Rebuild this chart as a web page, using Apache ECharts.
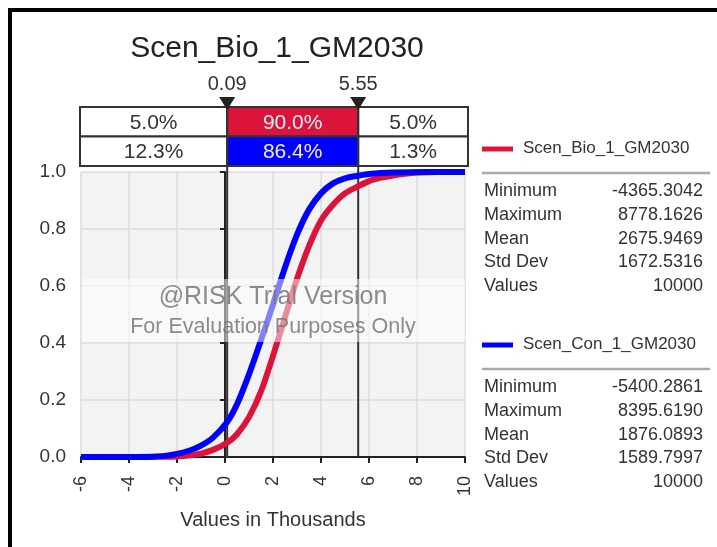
<!DOCTYPE html>
<html><head><meta charset="utf-8">
<script src="https://cdn.jsdelivr.net/npm/echarts@6/dist/echarts.min.js"></script>
<style>html,body{margin:0;padding:0;background:#fff}#c{width:717px;height:547px}</style>
</head><body><div id="c"></div>
<script>
const chartTitle = 'Scen_Bio_1_GM2030';
const seriesNames = ['Scen_Bio_1_GM2030', 'Scen_Con_1_GM2030'];
const seriesColors = ['#DC143C', '#0000FF'];
// cumulative probability curves (x in thousands)
const bioX = [-4.37, -3.0, -2.0, -1.5, -1.0, -0.5, 0.09, 0.5, 1.0, 1.5, 2.0, 2.5, 3.0, 3.5, 4.0, 4.5, 5.0, 5.55, 6.0, 6.5, 7.0, 7.5, 8.0, 8.78];
const bioY = [0, 0.0005, 0.002, 0.005, 0.012, 0.025, 0.05, 0.08, 0.14, 0.23, 0.355, 0.49, 0.625, 0.74, 0.83, 0.885, 0.925, 0.95, 0.968, 0.98, 0.988, 0.994, 0.998, 1.0];
const conX = [-6.0, -5.40, -3.0, -2.5, -2.0, -1.5, -1.0, -0.5, 0.09, 0.5, 1.0, 1.5, 2.0, 2.5, 3.0, 3.5, 4.0, 4.5, 5.0, 5.55, 6.0, 7.0, 8.40, 10.0];
const conY = [0, 0, 0.001, 0.004, 0.011, 0.022, 0.040, 0.068, 0.123, 0.185, 0.29, 0.41, 0.535, 0.665, 0.78, 0.868, 0.925, 0.96, 0.978, 0.987, 0.993, 0.998, 1.0, 1.0];
const cutoffs = [0.09, 5.55];
const cutoffLabels = ['0.09', '5.55'];
const bioBands = ['5.0%', '90.0%', '5.0%'];
const conBands = ['12.3%', '86.4%', '1.3%'];
const statLabels = ['Minimum', 'Maximum', 'Mean', 'Std Dev', 'Values'];
const bioStats = ['-4365.3042', '8778.1626', '2675.9469', '1672.5316', '10000'];
const conStats = ['-5400.2861', '8395.6190', '1876.0893', '1589.7997', '10000'];
const xMin = -6, xMax = 10, xStep = 2;
const yMin = 0, yMax = 1, yStep = 0.2;
const xAxisName = 'Values in Thousands';
const watermark = ['@RISK Trial Version', 'For Evaluation Purposes Only'];

const FONT = '"Liberation Sans", Arial, sans-serif';
const chart = echarts.init(document.getElementById('c'), null, {renderer: 'canvas'});

const zip = (xs, ys) => xs.map((x, i) => [x, ys[i]]);

function renderTable(params, api) {
  const gTop = api.coord([xMin, yMax])[1];
  const gBot = api.coord([xMin, yMin])[1];
  const xs = [xMin, cutoffs[0], cutoffs[1], xMax].map(v => api.coord([v, 0])[0]);
  xs[0] -= 1; xs[3] += 3;
  const rowH = 29.5;
  const r1 = gTop - 65, r2 = r1 + rowH;
  const children = [];
  const rows = [[r1, bioBands, seriesColors[0]], [r2, conBands, seriesColors[1]]];
  rows.forEach(([top, texts, col]) => {
    for (let i = 0; i < 3; i++) {
      children.push({
        type: 'rect', shape: {x: xs[i], y: top, width: xs[i + 1] - xs[i], height: rowH},
        style: {fill: i === 1 ? col : '#fff', stroke: '#333', lineWidth: 2}
      });
      children.push({
        type: 'text', style: {
          x: (xs[i] + xs[i + 1]) / 2, y: top + rowH / 2 + 1, text: texts[i],
          align: 'center', verticalAlign: 'middle', font: '21px ' + FONT,
          fill: i === 1 ? '#f4eef4' : '#333'
        }
      });
    }
  });
  cutoffs.forEach((c, i) => {
    const cx = api.coord([c, 0])[0];
    children.push({type: 'line', shape: {x1: cx, y1: r1 - 8, x2: cx, y2: gBot}, style: {stroke: '#333', lineWidth: 2}});
    const tip = r1 + 3;
    children.push({type: 'polygon', shape: {points: [[cx - 8, tip - 13], [cx + 8, tip - 13], [cx, tip]]}, style: {fill: '#222'}});
    children.push({type: 'text', style: {x: cx, y: r1 - 23, text: cutoffLabels[i], align: 'center', verticalAlign: 'middle', font: '20px ' + FONT, fill: '#333'}});
  });
  return {type: 'group', children};
}

function statsBlock(name, color, stats, top) {
  const els = [];
  els.push({type: 'line', shape: {x1: 482, y1: top, x2: 513, y2: top}, style: {stroke: color, lineWidth: 5}});
  els.push({type: 'text', style: {x: 523, y: top - 1, text: name, verticalAlign: 'middle', font: '17px ' + FONT, fill: '#333'}});
  els.push({type: 'line', shape: {x1: 482, y1: top + 24, x2: 710, y2: top + 24}, style: {stroke: '#aaa', lineWidth: 2.5}});
  statLabels.forEach((l, i) => {
    const y = top + 42 + i * 23.8;
    els.push({type: 'text', style: {x: 484, y, text: l, verticalAlign: 'middle', font: '18px ' + FONT, fill: '#333'}});
    els.push({type: 'text', style: {x: 703, y, text: stats[i], align: 'right', verticalAlign: 'middle', font: '18px ' + FONT, fill: '#333'}});
  });
  return els;
}

const option = {
  animation: false,
  backgroundColor: '#fff',
  textStyle: {fontFamily: FONT},
  title: {text: chartTitle, left: 272, top: 29, textAlign: 'center',
    textStyle: {fontFamily: FONT, fontSize: 30, fontWeight: 'normal', color: '#222'}},
  grid: {left: 81, right: 252, top: 172, bottom: 90, show: true, backgroundColor: '#f3f3f3', borderWidth: 0},
  xAxis: {
    type: 'value', min: xMin, max: xMax, interval: xStep,
    name: xAxisName, nameLocation: 'middle', nameGap: 53,
    nameTextStyle: {fontSize: 20, color: '#333', fontFamily: FONT},
    axisLine: {lineStyle: {color: '#222', width: 2}},
    axisTick: {show: true, length: 6, lineStyle: {color: '#222', width: 2}},
    axisLabel: {rotate: 90, fontSize: 18, color: '#333', margin: 19, fontFamily: FONT},
    splitLine: {show: true, lineStyle: {color: '#dcdcdc', width: 1.5}}
  },
  yAxis: {
    type: 'value', min: yMin, max: yMax, interval: yStep,
    axisLine: {show: true, lineStyle: {color: '#222', width: 2}},
    axisTick: {show: true, length: 5, lineStyle: {color: '#222', width: 2}},
    axisLabel: {fontSize: 19, color: '#333', margin: 15, fontFamily: FONT, formatter: v => v.toFixed(1)},
    splitLine: {show: true, lineStyle: {color: '#dcdcdc', width: 1.5}}
  },
  series: [
    {type: 'custom', renderItem: renderTable, data: [[0, 0]], clip: false, z: 1, silent: true},
    {name: seriesNames[0], type: 'line', data: zip(bioX, bioY), showSymbol: false, smooth: 0.3,
      lineStyle: {color: seriesColors[0], width: 6}, z: 3},
    {name: seriesNames[1], type: 'line', data: zip(conX, conY), showSymbol: false, smooth: 0.3,
      lineStyle: {color: seriesColors[1], width: 6}, z: 4}
  ],
  graphic: [
    {type: 'rect', z: 100, shape: {x: 82, y: 279, width: 383, height: 63}, style: {fill: 'rgba(255,255,255,0.5)'}},
    {type: 'text', z: 101, style: {x: 273, y: 297, text: watermark[0], align: 'center', verticalAlign: 'middle', font: '25px ' + FONT, fill: 'rgba(120,120,120,0.85)'}},
    {type: 'text', z: 101, style: {x: 273, y: 327, text: watermark[1], align: 'center', verticalAlign: 'middle', font: '21.5px ' + FONT, fill: 'rgba(120,120,120,0.85)'}},
    {type: 'polyline', z: 100, shape: {points: [[10, 547], [10, 10], [717, 10]]}, style: {stroke: '#000', lineWidth: 4, fill: null}},
    ...statsBlock(seriesNames[0], seriesColors[0], bioStats, 149),
    ...statsBlock(seriesNames[1], seriesColors[1], conStats, 345)
  ]
};
chart.setOption(option);
</script></body></html>
